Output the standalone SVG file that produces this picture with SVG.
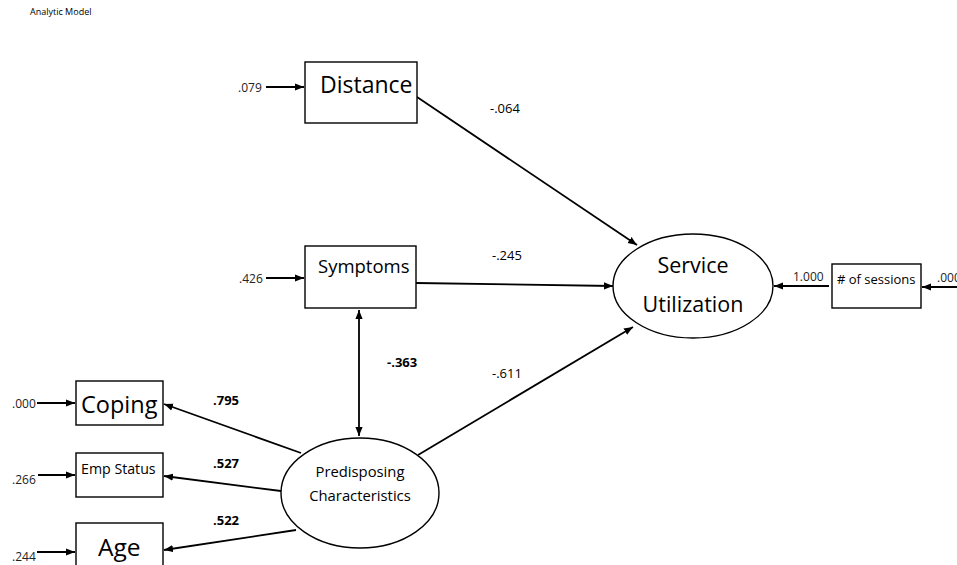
<svg xmlns="http://www.w3.org/2000/svg" width="957" height="565" viewBox="0 0 957 565">
<defs>
<marker id="ah" viewBox="0 0 10 10" refX="10" refY="5" markerWidth="9" markerHeight="9" markerUnits="userSpaceOnUse" orient="auto-start-reverse">
<path d="M0,1 L10,5 L0,9 Z" fill="#000"/>
</marker>
</defs>
<style>
.box{fill:#fff;stroke:#000;stroke-width:1.4}
.t{font-family:"Open Sans","Liberation Sans",sans-serif;fill:#000}
.e{font-family:"Open Sans","Liberation Sans",sans-serif;fill:#222;font-size:12px}
.n{font-family:"Open Sans","Liberation Sans",sans-serif;fill:#000;font-size:13px}
.b{font-family:"Open Sans","Liberation Sans",sans-serif;fill:#000;font-size:13px;font-weight:bold}
.c{stroke:#000;stroke-width:1.8;fill:none}
</style>
<rect width="957" height="565" fill="#fff"/>
<text class="t" x="30" y="15" font-size="9">Analytic Model</text>

<g id="connectors">
<line class="c" x1="266" y1="87" x2="304" y2="87" marker-end="url(#ah)"/>
<line class="c" x1="266" y1="278" x2="304" y2="278" marker-end="url(#ah)"/>
<line class="c" x1="37" y1="403" x2="75" y2="403" marker-end="url(#ah)"/>
<line class="c" x1="38" y1="475" x2="75" y2="475" marker-end="url(#ah)"/>
<line class="c" x1="37" y1="552" x2="75" y2="552" marker-end="url(#ah)"/>
<line class="c" x1="417" y1="97" x2="637" y2="245" marker-end="url(#ah)"/>
<line class="c" x1="416" y1="283" x2="613" y2="286" marker-end="url(#ah)"/>
<line class="c" x1="418" y1="455" x2="633" y2="327" marker-end="url(#ah)"/>
<line class="c" x1="829" y1="286" x2="774" y2="286" marker-end="url(#ah)"/>
<line class="c" x1="957" y1="287" x2="922" y2="287" marker-end="url(#ah)"/>
<line class="c" x1="359" y1="310" x2="359" y2="436" marker-start="url(#ah)" marker-end="url(#ah)"/>
<line class="c" x1="301" y1="453" x2="164" y2="404" marker-end="url(#ah)"/>
<line class="c" x1="281" y1="491" x2="164" y2="476" marker-end="url(#ah)"/>
<line class="c" x1="296" y1="530" x2="164" y2="550" marker-end="url(#ah)"/>
<text class="e" x="238" y="92">.079</text>
<text class="e" x="239" y="283">.426</text>
<text class="e" x="12" y="408">.000</text>
<text class="e" x="12" y="484">.266</text>
<text class="e" x="12" y="561">.244</text>
<text class="n" x="490" y="113">-.064</text>
<text class="n" x="492" y="260">-.245</text>
<text class="n" x="492" y="378">-.611</text>
<text class="b" x="387" y="367">-.363</text>
<text class="b" x="213" y="405">.795</text>
<text class="b" x="213" y="468">.527</text>
<text class="b" x="213" y="525">.522</text>
<text class="e" x="793" y="281">1.000</text>
<text class="e" x="937" y="282">.000</text>
</g>

<g id="distance">
<rect class="box" x="305" y="62" width="112" height="61"/>
<text class="t" x="320" y="93" font-size="23">Distance</text>
</g>
<g id="symptoms">
<rect class="box" x="305" y="246" width="111" height="62"/>
<text class="t" x="318" y="273" font-size="18.5">Symptoms</text>
</g>
<g id="service-utilization">
<ellipse class="box" cx="693" cy="286" rx="80" ry="52"/>
<text class="t" x="693" y="273" font-size="21.5" text-anchor="middle">Service</text>
<text class="t" x="693" y="312" font-size="21.5" text-anchor="middle">Utilization</text>
</g>
<g id="sessions">
<rect class="box" x="832" y="264" width="89" height="44"/>
<text class="t" x="837" y="284" font-size="13">#&#160;of sessions</text>
</g>
<g id="predisposing">
<ellipse class="box" cx="360" cy="493" rx="79" ry="55"/>
<text class="t" x="360" y="477" font-size="14.8" text-anchor="middle">Predisposing</text>
<text class="t" x="360" y="501" font-size="14.8" text-anchor="middle">Characteristics</text>
</g>
<g id="coping">
<rect class="box" x="76" y="381" width="87" height="44"/>
<text class="t" x="81" y="413" font-size="23.5">Coping</text>
</g>
<g id="emp-status">
<rect class="box" x="76" y="453" width="87" height="44"/>
<text class="t" x="81" y="474" font-size="14.2">Emp Status</text>
</g>
<g id="age">
<rect class="box" x="76" y="523" width="87" height="50"/>
<text class="t" x="98" y="556" font-size="24.5">Age</text>
</g>
</svg>
